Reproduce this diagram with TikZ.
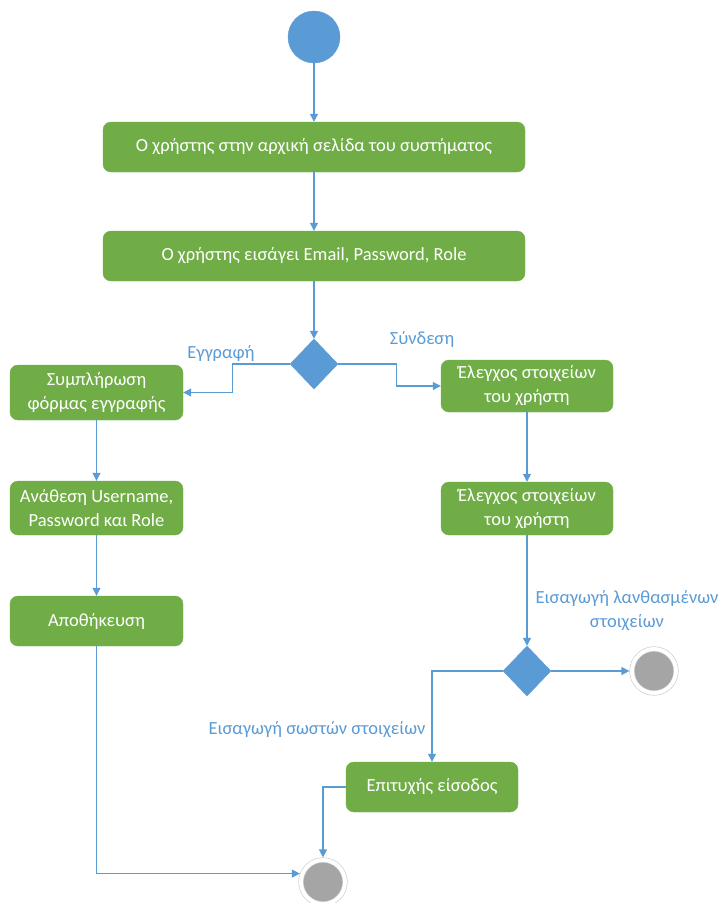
\documentclass[tikz,border=0pt]{standalone}
\usepackage{xcolor}
\usepackage{fontspec}
\setmainfont{Carlito}
\usepackage{tikz}
\usetikzlibrary{shapes.geometric}
\usetikzlibrary{arrows.meta}
\definecolor{actgreen}{HTML}{70AD47}
\definecolor{flowblue}{HTML}{5B9BD5}
\definecolor{endgrey}{HTML}{A5A5A5}
\tikzstyle{every node}=[font=\fontsize{18.5}{24}\selectfont]
\tikzstyle{action}=[rectangle, rounded corners=8pt, fill=actgreen, draw=actgreen, text=white, align=center, inner sep=2pt]
\tikzstyle{decision}=[diamond, fill=flowblue, draw=flowblue, minimum width=48pt, minimum height=50pt, inner sep=0pt]
\tikzstyle{final}=[circle, fill=endgrey, draw=endgrey!60, line width=0.6pt, double=white, double distance=4pt, minimum size=44pt, outer sep=2.6pt]
\tikzstyle{flow}=[draw=flowblue, line width=1.2pt, -{Triangle[width=8pt,length=8pt]}]
\tikzstyle{guard}=[text=flowblue, align=center]

\begin{document}
\begin{tikzpicture}[x=1pt, y=1pt]
        \useasboundingbox (0,0) rectangle (718,-903);

        \node [circle, fill=flowblue, draw=flowblue, minimum size=52pt, inner sep=0pt] (start) at (314,-37) {};

        \node [action, minimum width=422pt, minimum height=50pt] (home) at (314,-147) {Ο χρήστης στην αρχική σελίδα του συστήματος};
        \node [action, minimum width=422pt, minimum height=50pt] (input) at (314,-256) {Ο χρήστης εισάγει Email, Password, Role};
        \node [decision] (choice) at (314,-364) {};

        \node [action, minimum width=173pt, minimum height=55pt] (form) at (96.5,-392.5) {Συμπλήρωση\\φόρμας εγγραφής};
        \node [action, minimum width=173pt, minimum height=54pt] (assign) at (96.5,-508) {Ανάθεση Username,\\Password και Role};
        \node [action, minimum width=173pt, minimum height=50pt] (save) at (96.5,-621) {Αποθήκευση};

        \node [action, minimum width=172pt, minimum height=52pt] (checkA) at (527,-386) {Έλεγχος στοιχείων\\του χρήστη};
        \node [action, minimum width=172pt, minimum height=53pt] (checkB) at (527,-508.5) {Έλεγχος στοιχείων\\του χρήστη};
        \node [decision] (verify) at (527,-671) {};
        \node [final] (endfail) at (654,-671) {};

        \node [action, minimum width=172pt, minimum height=50pt] (success) at (432,-787) {Επιτυχής είσοδος};
        \node [final] (endok) at (323,-882) {};

        \node [guard] (regtag) at (221,-353) {Εγγραφή};
        \node [guard] (logtag) at (422,-339) {Σύνδεση};
        \node [guard] (wrongtag) at (627,-611) {Εισαγωγή λανθασμένων\\στοιχείων};
        \node [guard] (righttag) at (317,-730) {Εισαγωγή σωστών στοιχείων};

        \draw [flow] (start) -- (home);
        \draw [flow] (home) -- (input);
        \draw [flow] (input) -- (choice);
        \draw [flow] (choice.west) -- ++(-57,0) |- (form.east);
        \draw [flow] (choice.east) -- ++(58,0) |- (checkA.west);
        \draw [flow] (form) -- (assign);
        \draw [flow] (assign) -- (save);
        \draw [flow] (checkA) -- (checkB);
        \draw [flow] (checkB) -- (verify);
        \draw [flow] (verify) -- (endfail);
        \draw [flow] (verify.west) -| (success.north);
        \draw [flow] (success.west) -| (endok.north);
        \draw [flow] (save.south) |- (endok.160);
    \end{tikzpicture}
\end{document}
